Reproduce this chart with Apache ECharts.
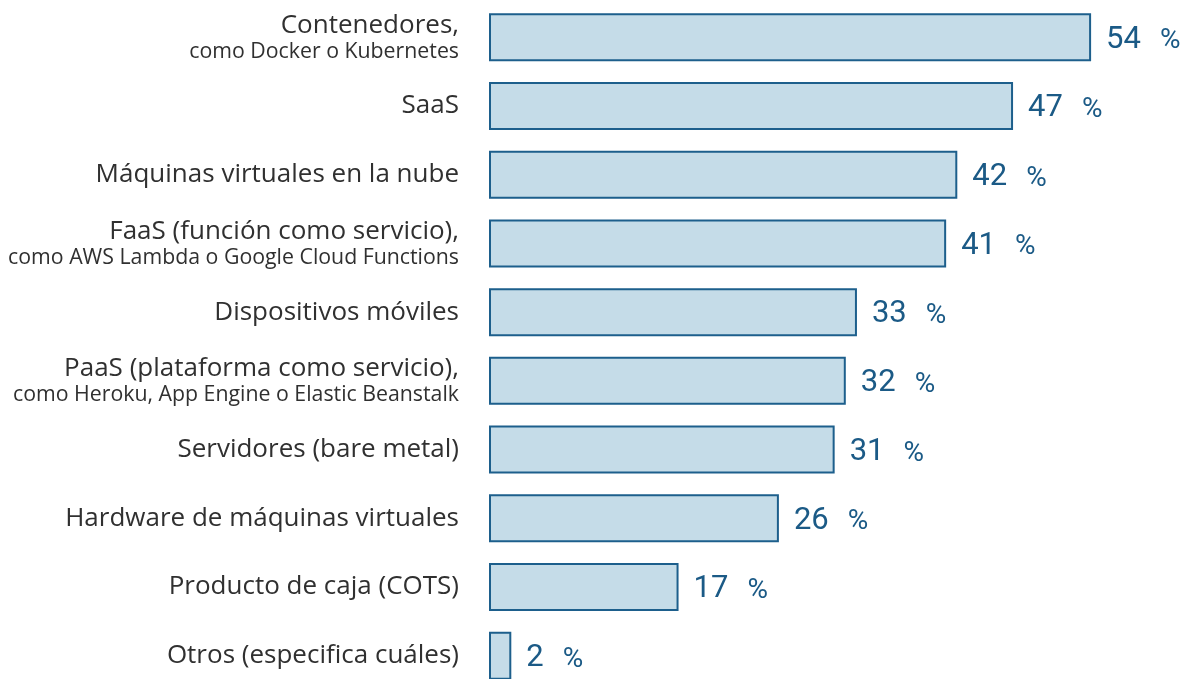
<!DOCTYPE html>
<html>
<head>
<meta charset="utf-8">
<script src="https://cdn.jsdelivr.net/npm/echarts@6/dist/echarts.min.js"></script>
<style>
  html, body { margin: 0; padding: 0; background: #ffffff; overflow: hidden; }
  /* the last bar runs past the lower edge of the view */
  #chart { width: 1188px; height: 692px; }
</style>
</head>
<body>
<div id="chart"></div>
<script>
// Main line of each category label
const categories = [
  'Contenedores,',
  'SaaS',
  'Máquinas virtuales en la nube',
  'FaaS (función como servicio),',
  'Dispositivos móviles',
  'PaaS (plataforma como servicio),',
  'Servidores (bare metal)',
  'Hardware de máquinas virtuales',
  'Producto de caja (COTS)',
  'Otros (especifica cuáles)'
];
// Secondary line (examples), empty when absent
const subtitles = [
  'como Docker o Kubernetes',
  '',
  '',
  'como AWS Lambda o Google Cloud Functions',
  '',
  'como Heroku, App Engine o Elastic Beanstalk',
  '',
  '',
  '',
  ''
];
// Share of respondents, percent
const values = [54, 47, 42, 41, 33, 32, 31, 26, 17, 2];

const labelFont = '"Open Sans", "Noto Sans", sans-serif';
const numberFont = 'Roboto, sans-serif';

const chart = echarts.init(document.getElementById('chart'), null, { renderer: 'canvas' });

chart.setOption({
  animation: false,
  backgroundColor: '#ffffff',
  grid: { left: 489, top: 3, width: 669, height: 687, containLabel: false },
  xAxis: {
    type: 'value',
    min: 0,
    max: 60,
    show: false
  },
  yAxis: {
    type: 'category',
    inverse: true,
    data: categories,
    axisLine: { show: false },
    axisTick: { show: false },
    axisLabel: {
      margin: 30,
      align: 'right',
      formatter: function (v, idx) {
        const s = subtitles[idx];
        return s ? '{a|' + v + '}\n{b|' + s + '}' : '{a|' + v + '}';
      },
      rich: {
        a: { fontFamily: labelFont, fontSize: 26, color: '#303030', lineHeight: 29, align: 'right' },
        b: { fontFamily: labelFont, fontSize: 21.3, color: '#303030', lineHeight: 24, align: 'right' }
      }
    }
  },
  series: [{
    type: 'bar',
    data: values,
    barWidth: 48,
    itemStyle: {
      color: '#c5dce8',
      borderColor: '#1d5f8c',
      borderWidth: 2
    },
    label: {
      show: true,
      position: 'right',
      distance: 15,
      formatter: function (p) { return '{v|' + p.value + '}{p|%}'; },
      rich: {
        v: { fontFamily: numberFont, fontSize: 31, color: '#1b5a86', verticalAlign: 'bottom', lineHeight: 36, padding: [6, 0, 0, 0] },
        p: { fontFamily: numberFont, fontSize: 28, color: '#1b5a86', verticalAlign: 'bottom', lineHeight: 36, padding: [6, 0, 0, 19] }
      }
    }
  }]
});
</script>
</body>
</html>
